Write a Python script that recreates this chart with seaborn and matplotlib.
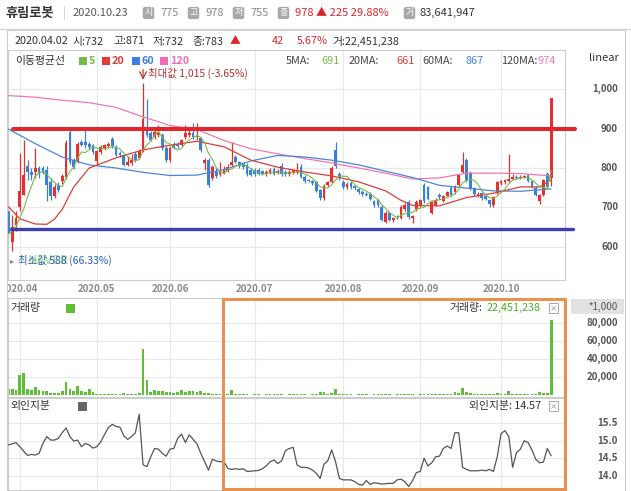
import numpy as np
import pandas as pd
import matplotlib
matplotlib.use("Agg")
import matplotlib.pyplot as plt
from matplotlib.patches import Rectangle
from matplotlib.transforms import blended_transform_factory, Bbox, TransformedBbox
import seaborn as sns

# ---------------- data ----------------
opens = [690, 612, 655, 700, 732, 805, 790, 790, 800, 800,
         795, 765, 730, 758, 767, 777, 892, 820, 816, 867,
         866, 862, 858, 818, 841, 850, 856, 874, 854, 838,
         833, 808, 812, 835, 825, 845, 905, 888, 880, 885,
         884, 851, 820, 858, 860, 858, 880, 885, 889, 878,
         876, 812, 820, 775, 790, 785, 788, 792, 808, 828,
         815, 814, 808, 795, 795, 796, 792, 784, 787, 798,
         788, 806, 790, 785, 788, 790, 803, 778, 770, 768,
         765, 744, 724, 758, 765, 846, 785, 765, 752, 762,
         755, 747, 740, 735, 735, 716, 719, 702, 664, 686,
         668, 676, 673, 695, 714, 672, 696, 706, 757, 752,
         686, 706, 732, 716, 730, 750, 738, 757, 791, 820,
         788, 749, 730, 737, 730, 718, 706, 736, 762, 764,
         768, 772, 778, 775, 777, 782, 768, 750, 716, 732,
         785, 775]
highs = [700, 680, 690, 838, 871, 820, 800, 852, 805, 806,
         805, 775, 760, 765, 785, 870, 898, 826, 866, 872,
         897, 866, 862, 846, 858, 862, 866, 880, 858, 842,
         836, 830, 836, 840, 848, 1015, 975, 895, 898, 910,
         890, 856, 855, 865, 866, 875, 909, 905, 914, 914,
         880, 825, 825, 808, 800, 815, 805, 810, 866, 832,
         818, 816, 812, 800, 800, 800, 796, 795, 800, 802,
         798, 812, 795, 795, 798, 812, 810, 782, 773, 770,
         768, 748, 760, 768, 806, 867, 790, 770, 765, 766,
         758, 750, 743, 740, 738, 720, 722, 705, 690, 690,
         676, 680, 705, 710, 718, 680, 718, 722, 762, 755,
         716, 724, 736, 732, 742, 754, 756, 785, 841, 825,
         792, 752, 738, 740, 733, 720, 728, 768, 770, 772,
         835, 785, 782, 782, 782, 786, 770, 754, 735, 772,
         790, 978]
lows = [620, 588, 640, 690, 732, 770, 770, 775, 775, 785,
        715, 720, 725, 740, 760, 772, 810, 798, 812, 855,
        852, 848, 835, 808, 835, 845, 850, 852, 830, 828,
        805, 805, 808, 815, 822, 840, 880, 868, 875, 880,
        845, 815, 815, 848, 850, 855, 875, 880, 875, 870,
        840, 795, 752, 770, 775, 780, 785, 790, 805, 812,
        800, 798, 780, 780, 780, 782, 782, 780, 785, 782,
        785, 780, 780, 780, 785, 785, 775, 762, 765, 758,
        738, 718, 720, 755, 762, 800, 770, 748, 748, 748,
        745, 735, 730, 728, 718, 702, 702, 665, 660, 665,
        662, 670, 670, 692, 670, 660, 692, 702, 712, 718,
        684, 704, 722, 714, 728, 728, 735, 755, 788, 765,
        745, 730, 726, 720, 718, 700, 700, 734, 758, 760,
        765, 770, 772, 772, 774, 765, 750, 728, 708, 730,
        750, 755]
closes = [632, 650, 672, 741, 783, 790, 782, 800, 788, 790,
          757, 730, 752, 745, 780, 864, 816, 803, 861, 859,
          858, 853, 840, 842, 854, 858, 862, 857, 833, 832,
          808, 815, 820, 820, 843, 925, 885, 872, 892, 890,
          851, 820, 851, 852, 855, 871, 888, 890, 879, 885,
          846, 820, 757, 803, 780, 792, 797, 803, 815, 815,
          806, 803, 785, 783, 784, 786, 785, 790, 795, 786,
          792, 784, 784, 790, 795, 796, 778, 766, 768, 762,
          742, 724, 755, 764, 801, 805, 775, 752, 760, 752,
          749, 738, 735, 732, 722, 706, 706, 668, 686, 668,
          672, 674, 702, 706, 676, 678, 714, 718, 715, 722,
          714, 720, 726, 728, 738, 732, 752, 782, 808, 769,
          749, 734, 735, 723, 722, 708, 726, 765, 766, 769,
          772, 778, 775, 778, 777, 768, 753, 732, 731, 770,
          753, 978]
# volume in thousand shares
volume = [7000, 7000, 6000, 22600, 24400, 7000, 5900, 9600, 5900, 5200,
          4800, 3000, 3000, 2600, 4800, 14800, 7400, 5200, 10400, 5200,
          4000, 7400, 3700, 1500, 1200, 1300, 1100, 1400, 1600, 1200,
          2200, 1800, 1300, 1500, 2400, 51100, 17000, 4000, 5900, 5200,
          4800, 3300, 4000, 3000, 4000, 5900, 3700, 4400, 4800, 4000,
          4400, 3000, 2600, 1500, 1200, 1000, 900, 1100, 5900, 1300,
          1100, 900, 1000, 800, 900, 1000, 800, 900, 1000, 1200,
          900, 1000, 800, 900, 1100, 1300, 1000, 900, 800, 1200,
          1500, 3700, 3300, 1800, 2600, 7000, 1800, 1200, 1000, 900,
          800, 900, 1000, 900, 800, 900, 1000, 1300, 1100, 900,
          800, 900, 1200, 1000, 1100, 900, 800, 1000, 900, 1100,
          1000, 900, 1200, 1100, 1000, 1400, 3300, 2600, 8100, 4000,
          3000, 1600, 1200, 1000, 900, 1500, 1300, 2200, 1500, 1300,
          4800, 1600, 1300, 1100, 1000, 1200, 1300, 1600, 3300, 2400,
          2000, 83642]
# foreign ownership (%)
foreign = [14.88, 14.91, 14.95, 14.83, 14.70, 14.58, 14.61, 14.59, 14.64, 14.93,
           15.12, 15.02, 15.02, 15.07, 15.23, 15.37, 15.12, 14.99, 15.02, 14.83,
           14.92, 14.88, 14.79, 14.83, 14.97, 15.18, 15.38, 15.47, 15.41, 15.39,
           15.14, 15.04, 15.12, 15.23, 15.76, 14.31, 14.26, 14.54, 14.78, 14.76,
           14.64, 14.56, 14.76, 14.78, 15.07, 15.19, 14.95, 15.17, 15.04, 14.91,
           14.64, 14.40, 14.16, 14.47, 14.42, 14.40, 14.41, 14.21, 14.18, 14.20,
           14.18, 14.20, 14.12, 14.13, 14.14, 14.15, 14.20, 14.28, 14.40, 14.45,
           14.35, 14.43, 14.72, 14.78, 14.81, 14.31, 14.24, 14.24, 14.22, 14.16,
           14.07, 13.92, 14.33, 14.43, 14.74, 14.40, 13.92, 13.88, 13.88, 13.88,
           13.83, 13.75, 13.73, 13.86, 13.75, 13.80, 13.78, 13.76, 13.77, 13.78,
           13.78, 13.88, 13.90, 13.83, 13.69, 13.86, 14.09, 14.12, 14.50, 14.28,
           14.37, 14.54, 14.56, 14.78, 14.85, 14.78, 15.23, 15.23, 14.24, 14.18,
           14.14, 14.14, 14.14, 14.16, 14.14, 14.18, 14.12, 14.54, 15.21, 15.29,
           15.12, 14.24, 14.66, 14.76, 15.00, 14.95, 14.74, 14.47, 14.37, 14.39,
           14.78, 14.57]

# longer moving averages, read at sample days
ma20_days = [0, 3, 7, 10, 12, 14, 17, 21, 28, 35, 42, 49, 56, 63, 70, 77, 84,
             91, 98, 102, 105, 112, 119, 126, 133, 138, 141]
ma20_vals = [702, 671, 658, 657, 670, 695, 752, 800, 826, 846, 858, 868, 854, 820,
             802, 790, 780, 765, 742, 718, 705, 704, 725, 736, 752, 752, 770]
ma60_days = [0, 7, 14, 21, 28, 35, 42, 49, 56, 63, 70, 77, 84, 91, 98, 105,
             112, 119, 126, 133, 141]
ma60_vals = [899, 862, 828, 808, 800, 789, 781, 782, 796, 818, 832, 828, 820,
             808, 792, 776, 756, 749, 742, 741, 747]
ma120_days = ma60_days
ma120_vals = [984, 980, 972, 966, 954, 930, 908, 898, 870, 849, 836, 824, 813,
              800, 787, 772, 775, 787, 787, 786, 780]

month_days = [3, 23, 42, 64, 87, 107, 128]
month_labels = ["2020.04", "2020.05", "2020.06", "2020.07", "2020.08", "2020.09", "2020.10"]
price_ticks = [600, 700, 800, 900, 1000]
volume_ticks = [20000, 40000, 60000, 80000]
foreign_ticks = [14.0, 14.5, 15.0, 15.5]
resist_level = 898
support_level = 646

df = pd.DataFrame({"o": opens, "h": highs, "l": lows, "c": closes,
                   "v": volume, "f": foreign})
df["day"] = np.arange(len(df))
df["ma5"] = df["c"].rolling(5, min_periods=1).mean()

# ---------------- style ----------------
sns.set_theme(style="white")
plt.rcParams["font.family"] = ["Noto Sans CJK KR", "DejaVu Sans"]

RED = "#e5312d"
BLUE = "#3a80d6"
C5, C20, C60, C120 = "#79b94a", "#d9403a", "#4a86d8", "#ef77b5"
GRID = "#e8e8e8"
EDGE = "#cdcdcd"
AXTXT = "#555555"

W, H = 631, 491
fig = plt.figure(figsize=(W / 100, H / 100), dpi=100)


def fx(x):
    return x / W


def fy(y):
    return 1 - y / H


def rect(x0, y0, x1, y1):
    return [x0 / W, 1 - y1 / H, (x1 - x0) / W, (y1 - y0) / H]


ax_p = fig.add_axes(rect(8, 50, 565, 280))
ax_v = fig.add_axes(rect(8, 298, 565, 397))
ax_f = fig.add_axes(rect(8, 398, 565, 490))

xlim = (-0.08, 144.6)
for ax in (ax_p, ax_v, ax_f):
    ax.set_xlim(*xlim)
    ax.set_xticks([])
    ax.set_yticks([])
    for s in ax.spines.values():
        s.set_color(EDGE)
        s.set_linewidth(0.8)
    for d in month_days:
        ax.axvline(d, color=GRID, lw=0.8, zorder=0)

# ---------------- price panel ----------------
ax_p.set_ylim(515.6, 1099.8)
for t in price_ticks:
    ax_p.axhline(t, color=GRID, lw=0.8, zorder=0)

colors = np.where(df["c"] >= df["o"], RED, BLUE)
ax_p.vlines(df["day"], df["l"], df["h"], colors=colors, lw=0.9, zorder=2)
body_low = np.minimum(df["o"], df["c"])
body_h = np.maximum((df["c"] - df["o"]).abs(), 2.5)
ax_p.bar(df["day"], body_h, bottom=body_low, width=0.72, color=colors,
         edgecolor="none", lw=0, zorder=3)

sns.lineplot(x=ma120_days, y=ma120_vals, ax=ax_p, color=C120, lw=0.9, zorder=4)
sns.lineplot(x=ma60_days, y=ma60_vals, ax=ax_p, color=C60, lw=0.9, zorder=4)
sns.lineplot(x=ma20_days, y=ma20_vals, ax=ax_p, color=C20, lw=0.9, zorder=4)
sns.lineplot(x=df["day"], y=df["ma5"], ax=ax_p, color=C5, lw=0.8, zorder=4)

ax_p.axhline(resist_level, xmin=0.0095, xmax=1.018, color="#e3262c", lw=2.9,
             clip_on=False, zorder=6)
ax_p.axhline(support_level, xmin=0.0054, xmax=1.0144, color="#3c3fb0", lw=2.4,
             clip_on=False, zorder=6)

imax = int(np.argmax(df["h"]))
ax_p.annotate("", xy=(imax, df["h"][imax] + 2), xytext=(imax, df["h"][imax] + 42),
              arrowprops=dict(arrowstyle="->", color="#c0392b", lw=0.9), zorder=7)
ax_p.annotate("최대값 1,015 (-3.65%)", xy=(imax, df["h"][imax]), xytext=(3.5, 7),
              textcoords="offset points", fontsize=7.5, color="#b03030",
              ha="left", va="center", zorder=7)
imin = int(np.argmin(df["l"]))
# faint site watermark sitting behind the minimum label
ax_p.annotate("NAVER", xy=(imin, df["l"][imin]), xytext=(11, -6.2),
              textcoords="offset points", fontsize=9, fontweight="bold",
              color="#9ad47e", alpha=0.7, ha="left", va="center", zorder=6)
ax_p.annotate("최소값 588 (66.33%)", xy=(imin, df["l"][imin]), xytext=(4.3, -6.2),
              textcoords="offset points", fontsize=7.5, color="#2a5db0",
              ha="left", va="center", zorder=7)
ax_p.annotate("▸", xy=(imin, df["l"][imin]), xytext=(-1.5, -6.2),
              textcoords="offset points", fontsize=6, color="#888888",
              ha="left", va="center", zorder=7)

tr = blended_transform_factory(ax_p.transAxes, ax_p.transData)
for t in price_ticks:
    ax_p.text(1.0952, t, f"{t:,}", transform=tr, ha="right", va="center",
              fontsize=7, fontweight="bold", color=AXTXT, clip_on=False)

trx = blended_transform_factory(ax_p.transData, ax_p.transAxes)
clipbox = TransformedBbox(Bbox.from_extents(fx(7), 0, 1, 1), fig.transFigure)
for d, lab in zip(month_days, month_labels):
    t = ax_p.text(d, -0.039, lab, transform=trx, ha="center", va="center",
                  fontsize=7, fontweight="bold", color="#8a8a8a")
    t.set_clip_on(True)
    t.set_clip_box(clipbox)

# ---------------- volume panel ----------------
ax_v.set_ylim(-1900, 108100)
for t in volume_ticks:
    ax_v.axhline(t, color=GRID, lw=0.8, zorder=0)
ax_v.bar(df["day"], df["v"], width=0.72, color="#5dbf35", edgecolor="none",
         lw=0, zorder=2)
trv = blended_transform_factory(ax_v.transAxes, ax_v.transData)
for t in volume_ticks:
    ax_v.text(1.0952, t, f"{t:,}", transform=trv, ha="right", va="center",
              fontsize=7, fontweight="bold", color=AXTXT, clip_on=False)

# ---------------- foreign ownership panel ----------------
ax_f.set_ylim(13.59, 16.225)
for t in foreign_ticks:
    ax_f.axhline(t, color=GRID, lw=0.8, zorder=0)
sns.lineplot(x=df["day"], y=df["f"], ax=ax_f, color="#555555", lw=0.9, zorder=3)
trf = blended_transform_factory(ax_f.transAxes, ax_f.transData)
for t in foreign_ticks:
    ax_f.text(1.0952, t, f"{t:.1f}", transform=trf, ha="right", va="center",
              fontsize=7, fontweight="bold", color=AXTXT, clip_on=False)

for ax in (ax_p, ax_v, ax_f):
    ax.set_xlabel("")
    ax.set_ylabel("")

# ---------------- frame, header, legends ----------------
fig.add_artist(Rectangle((fx(7), fy(491)), (625 - 7) / W, (491 - 30) / H,
                         transform=fig.transFigure, fill=False, ec=EDGE, lw=0.8))
fig.add_artist(plt.Line2D([0, 1], [fy(29), fy(29)], transform=fig.transFigure,
                          color="#d5d5d5", lw=1))

fig.text(fx(5), fy(13), "휴림로봇", fontsize=9.5, fontweight="bold", color="#333333", va="center")
fig.text(fx(63), fy(13), "|", fontsize=8.5, color="#cccccc", va="center")
fig.text(fx(73), fy(13), "2020.10.23", fontsize=8, color="#555555", va="center")
icon = dict(boxstyle="round,pad=0.18,rounding_size=0.25", fc="#a9a9a9", ec="none")
header_items = [(143, "시", 160, "775", "#888888"), (188, "고", 205, "978", "#888888"),
                (233, "저", 250, "755", "#888888"), (278, "종", 295, "978 ▲ 225 29.88%", "#d9262b"),
                (404, "거", 420, "83,641,947", "#333333")]
for bx, ch, tx, val, col in header_items:
    fig.text(fx(bx + 5.5), fy(13), ch, fontsize=6.5, color="white", ha="center",
             va="center", bbox=icon)
    fig.text(fx(tx), fy(13), val, fontsize=8, color=col, va="center")

info = [(15, "2020.04.02", "#333333"), (73, "시:732", "#333333"), (113, "고:871", "#333333"),
        (153, "저:732", "#333333"), (192, "종:783", "#333333"), (230, "▲", "#d9262b"),
        (272, "42", "#d9262b"), (297, "5.67%", "#d9262b"), (332, "거:22,451,238", "#333333")]
for x, s, col in info:
    fig.text(fx(x), fy(41.5), s, fontsize=7.8, color=col, va="center")

fig.text(fx(15), fy(61), "이동평균선", fontsize=7.8, color="#333333", va="center")
for x, lab, col in [(79, "5", C5), (102, "20", "#e03a3a"), (132, "60", "#3d7fd9"), (160, "120", "#f06cb4")]:
    fig.add_artist(Rectangle((fx(x), fy(65)), 8 / W, 8 / H, transform=fig.transFigure,
                             fc=col, ec="none"))
    fig.text(fx(x + 10), fy(61), lab, fontsize=7.8, fontweight="bold", color=col, va="center")

for x, s, col in [(286, "5MA:", "#444444"), (321, "691", C5), (349, "20MA:", "#444444"),
                  (396, "661", C20), (422, "60MA:", "#444444"), (466, "867", C60),
                  (501, "120MA:", "#444444"), (538, "974", C120)]:
    fig.text(fx(x), fy(61), s, fontsize=7.8, color=col, va="center")
fig.text(fx(604), fy(58), "linear", fontsize=8, color="#333333", ha="center", va="center")

# volume header
fig.add_artist(Rectangle((fx(571), fy(314)), 53 / W, 15 / H, transform=fig.transFigure,
                         fc="#e2e2e2", ec="none"))
fig.text(fx(618), fy(306.5), "*1,000", fontsize=7, color=AXTXT, ha="right", va="center")
fig.text(fx(10), fy(308), "거래량", fontsize=7.8, color="#333333", va="center")
fig.add_artist(Rectangle((fx(66), fy(313)), 9 / W, 9 / H, transform=fig.transFigure,
                         fc="#5dbf35", ec="none"))
fig.text(fx(482), fy(308), "거래량:", fontsize=7.8, color="#333333", ha="right", va="center")
fig.text(fx(541), fy(308), "22,451,238", fontsize=7.8, color="#4cae2a", ha="right", va="center")

# foreign header
fig.text(fx(10), fy(406), "외인지분", fontsize=7.8, color="#333333", va="center")
fig.add_artist(Rectangle((fx(78), fy(410.5)), 9 / W, 9 / H, transform=fig.transFigure,
                         fc="#666666", ec="none"))
fig.text(fx(541), fy(406), "외인지분: 14.57", fontsize=7.8, color="#333333", ha="right", va="center")

closebox = dict(boxstyle="square,pad=0.1", fc="white", ec="#999999", lw=0.6)
for y in (308, 406):
    fig.text(fx(553.5), fy(y), "×", fontsize=5.5, color="#777777", ha="center",
             va="center", bbox=closebox)

# highlight box
fig.add_artist(Rectangle((fx(223), fy(488.5)), (565 - 223) / W, (488.5 - 298.5) / H,
                         transform=fig.transFigure, fill=False, ec="#e5934f", lw=2.2))

fig.savefig("out.png", dpi=100, facecolor="white")
